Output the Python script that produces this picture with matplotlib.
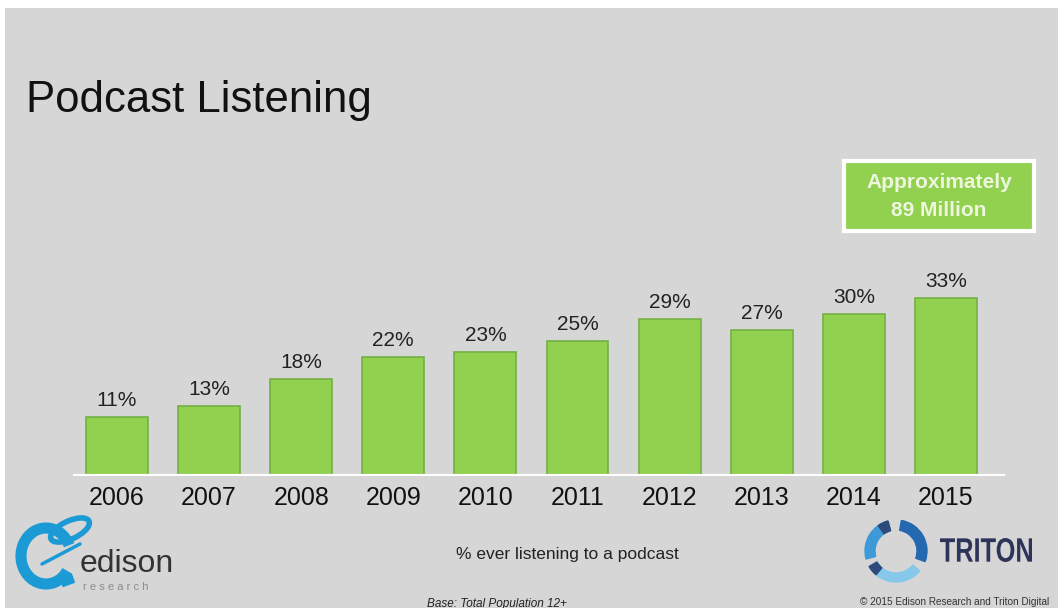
import matplotlib.pyplot as plt
from matplotlib.patches import Rectangle, Arc, Wedge, PathPatch, Ellipse
from matplotlib.textpath import TextPath
from matplotlib.font_manager import FontProperties
from matplotlib.transforms import Affine2D

years = ["2006", "2007", "2008", "2009", "2010", "2011", "2012", "2013", "2014", "2015"]
pct = [11, 13, 18, 22, 23, 25, 29, 27, 30, 33]

W, H = 1058, 608
bg = "#d6d6d6"
green = "#92d050"
edge = "#74b043"

fig = plt.figure(figsize=(W / 100, H / 100), dpi=100)
fig.patch.set_facecolor("white")
# grey slide inset by a thin white border at top/left
fig.patches.append(Rectangle((5 / W, 0), 1, 1 - 8 / H, transform=fig.transFigure,
                             facecolor=bg, edgecolor="none", zorder=-5))

def fx(px):
    return px / W

def fy(py):
    return 1 - py / H

# axes placed in pixels: baseline at y=476, spans x 73..1005
x0, x1 = 73, 1005
ybase, ytop = 476, 160
ax = fig.add_axes([fx(x0), fy(ybase), fx(x1 - x0), (ybase - ytop) / H])
ax.set_facecolor("none")
step = 92.1
ax.set_xlim(-(117 - x0) / step, (x1 - 117) / step)
ax.set_ylim(0, (ybase - ytop) / 5.4)

xs = range(len(years))
ax.bar(xs, pct, width=0.673, color=green, edgecolor=edge, linewidth=1.2, zorder=2)
for x, v in zip(xs, pct):
    ax.text(x, v + 1.3, f"{v}%", ha="center", va="bottom", fontsize=15,
            color="#222222", family="Liberation Sans")
ax.axhline(0, color="white", linewidth=3, zorder=3)
for s in ax.spines.values():
    s.set_visible(False)
ax.set_yticks([])
ax.set_xticks(list(xs))
ax.set_xticklabels(years, fontsize=18, color="#111111", family="Liberation Sans")
ax.tick_params(axis="x", length=0, pad=7)

# title
fig.text(fx(26), fy(112), "Podcast Listening", fontsize=31.5, color="#111111",
         family="Liberation Sans", va="baseline", ha="left")

# callout box
fig.patches.append(Rectangle((fx(844), fy(231)), fx(190), 70 / H, transform=fig.transFigure,
                             facecolor=green, edgecolor="white", linewidth=3, zorder=1))
fig.text(fx(939), fy(183), "Approximately", fontsize=15, fontweight="bold",
         color="#eef7dd", ha="center", va="center", family="Liberation Sans")
fig.text(fx(939), fy(211), "89 Million", fontsize=15, fontweight="bold",
         color="#eef7dd", ha="center", va="center", family="Liberation Sans")

# footnotes
fig.text(fx(567), fy(555), "% ever listening to a podcast", fontsize=12.5, color="#222222",
         ha="center", va="center", family="Liberation Sans")
fig.text(fx(497), fy(604), "Base: Total Population 12+", fontsize=8.5, color="#222222",
         ha="center", va="center", style="italic", family="Liberation Sans")
fig.text(fx(860), fy(602), "© 2015 Edison Research and Triton Digital", fontsize=7.2,
         color="#333333", ha="left", va="center", family="Liberation Sans")

# logos drawn in a pixel-space overlay
lax = fig.add_axes([0, 0, 1, 1], zorder=5)
lax.set_xlim(0, W)
lax.set_ylim(H, 0)
lax.axis("off")

# edison logo (simplified)
blue = "#1b9ad6"
lax.add_patch(Arc((46, 556), 50, 56, theta1=35, theta2=335, color=blue, lw=8))
lax.add_patch(Ellipse((70, 530), 42, 18, angle=-25, fill=False, edgecolor=blue, lw=4))
lax.plot([42, 80], [564, 544], color=blue, lw=2.5, solid_capstyle="round")
lax.add_patch(Rectangle((60, 578), 12, 9, angle=-20, color=blue))
lax.text(80, 572, "edison", fontsize=23, color="#333333", va="baseline", ha="left",
         family="Liberation Sans")
lax.text(83, 590, "r e s e a r c h", fontsize=8, color="#8d8d8d", va="baseline", ha="left",
         family="Liberation Sans")

# triton logo (simplified)
cx, cy = 896, 551
lax.add_patch(Wedge((cx, cy), 31, 40, 150, width=9, color="#86c8ea"))
lax.add_patch(Wedge((cx, cy), 31, 165, 255, width=10, color="#3d9ad6"))
lax.add_patch(Wedge((cx, cy), 31, 280, 20, width=10, color="#2468b0"))
lax.add_patch(Wedge((cx, cy), 31, 130, 150, width=9, color="#2e4a7a"))
lax.add_patch(Wedge((cx, cy), 31, 235, 255, width=10, color="#2e4a7a"))

tp = TextPath((0, 0), "TRITON", size=1, prop=FontProperties(family="Liberation Sans", weight="bold"))
ext = tp.get_extents()
sx = 92 / ext.width
sy = 24 / ext.height
tr = Affine2D().translate(-ext.x0, -ext.y0).scale(sx, -sy).translate(940, 562) + lax.transData
lax.add_patch(PathPatch(tp, transform=tr, facecolor="#2e3459", edgecolor="none"))

fig.savefig("out.png", dpi=100, facecolor=fig.get_facecolor())
